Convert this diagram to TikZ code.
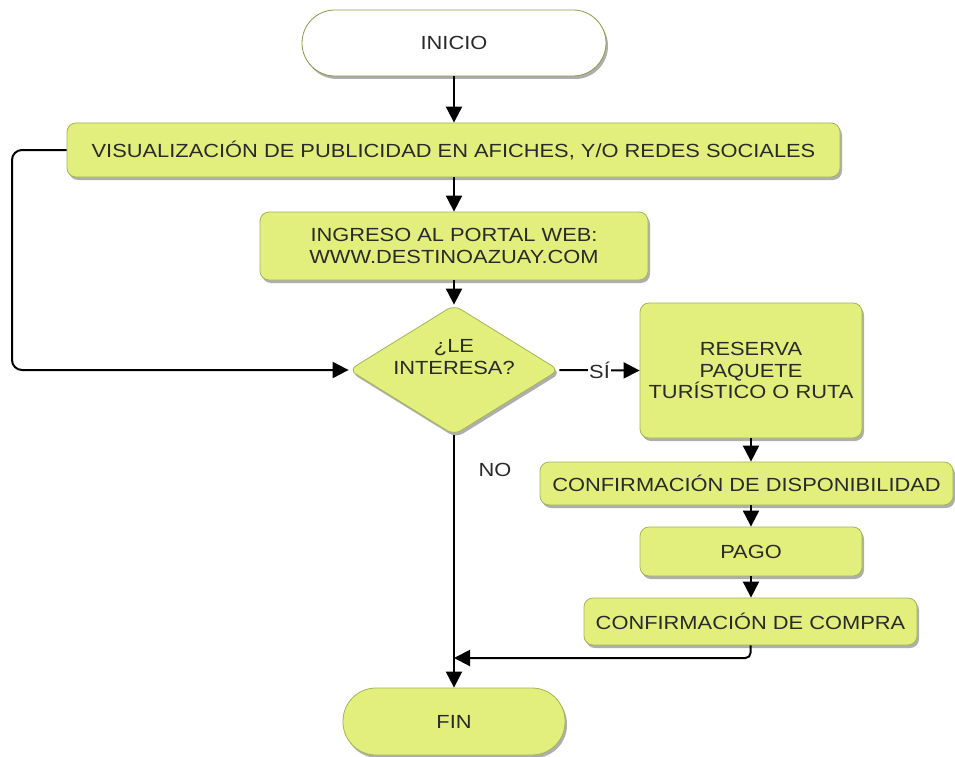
\documentclass[tikz,border=0pt]{standalone}
\usepackage{fontspec}
\setmainfont{Liberation Sans}[FakeStretch=1.15]
\usetikzlibrary{shapes.geometric,shadows,arrows.meta}
\definecolor{boxfill}{HTML}{E2EF7D}
\definecolor{boxline}{HTML}{A3B557}
\definecolor{textgray}{HTML}{2A2A2A}
\begin{document}
\begin{tikzpicture}[x=1pt,y=-1pt,
  base/.style={text=textgray, align=center, inner sep=0pt, font=\fontsize{19}{21.5}\selectfont},
  box/.style={base, draw=boxline, fill=boxfill, line width=0.8pt, rounded corners=9pt,
    drop shadow={shadow xshift=2pt, shadow yshift=-3pt, opacity=0.45, fill=black!70}},
  plain/.style={base},
  arr/.style={draw=black, line width=2pt, -{Triangle[width=16pt,length=16pt]}}]
\useasboundingbox (0,0) rectangle (955,757);

\node[box, fill=white, draw=boxline!85!black, rounded corners=33pt, minimum width=304pt, minimum height=66pt] (inicio) at (454,43) {INICIO};
\node[box, minimum width=773pt, minimum height=54pt] (vis) at (453.5,150) {VISUALIZACIÓN DE PUBLICIDAD EN AFICHES, Y/O REDES SOCIALES};
\node[box, minimum width=388pt, minimum height=68pt] (ing) at (454,246) {INGRESO AL PORTAL WEB:\\WWW.DESTINOAZUAY.COM};
\node[box, diamond, rounded corners=8pt, minimum width=210pt, minimum height=130pt] (dec) at (454,370) {};
\node[plain] (dect) at (454,357) {¿LE\\INTERESA?};
\node[box, minimum width=222pt, minimum height=135pt] (res) at (751,370.5) {RESERVA\\PAQUETE\\TURÍSTICO O RUTA};
\node[box, minimum width=413pt, minimum height=43pt] (disp) at (746.5,483.5) {CONFIRMACIÓN DE DISPONIBILIDAD};
\node[box, minimum width=222pt, minimum height=49pt] (pago) at (751,551.5) {PAGO};
\node[box, minimum width=333pt, minimum height=47pt] (comp) at (750.5,621.5) {CONFIRMACIÓN DE COMPRA};
\node[box, rounded corners=33pt, minimum width=222pt, minimum height=67pt] (fin) at (454,721.5) {FIN};
\node[plain] (no) at (495,470) {NO};

\coordinate (lx) at (12,150);
\coordinate (mg) at (454,658);

\draw[arr] (inicio.south) -- (inicio.south |- vis.north);
\draw[arr] (vis.south -| ing.north) -- (ing.north);
\draw[arr] (ing.south) -- (dec.north);
\draw[arr, rounded corners=10pt] (vis.west) -- (vis.west -| lx) -- (dec.west -| lx) -- (dec.west);
\draw[arr] (dec.east) -- node[base, fill=white, inner sep=1pt] (si) {SÍ} (res.west);
\draw[arr] (dec.south) -- (fin.north);
\draw[arr] (res.south) -- (res.south |- disp.north);
\draw[arr] (res.south |- disp.south) -- (res.south |- pago.north);
\draw[arr] (pago.south) -- (pago.south |- comp.north);
\draw[arr, rounded corners=5pt] (comp.south) |- (mg);
\end{tikzpicture}
\end{document}
